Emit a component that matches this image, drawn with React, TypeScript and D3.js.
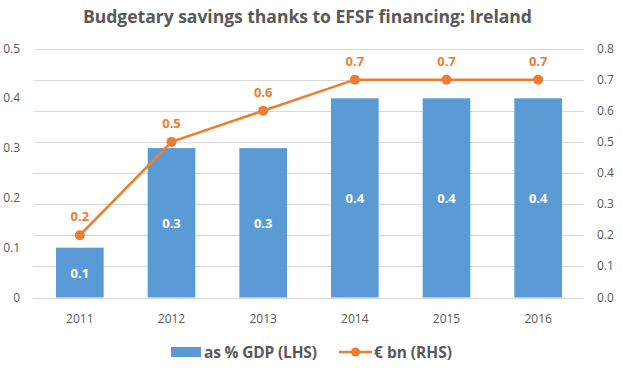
import React from "react";
import * as d3 from "d3";

const years = ["2011", "2012", "2013", "2014", "2015", "2016"];
const gdpPct = [0.1, 0.3, 0.3, 0.4, 0.4, 0.4];
const eurBn = [0.2, 0.5, 0.6, 0.7, 0.7, 0.7];
const leftTicks = [0, 0.1, 0.2, 0.3, 0.4, 0.5];
const rightTicks = [0, 0.1, 0.2, 0.3, 0.4, 0.5, 0.6, 0.7, 0.8];

const W = 622, H = 376;
const left = 34, right = 584, top = 48.5, bottom = 297.5;
const gray = "#595959";
const blue = "#5B9BD5";
const orange = "#ED7D31";
const font = "'Open Sans', 'Liberation Sans', sans-serif";

export default function App() {
  const x = d3.scaleBand<string>().domain(years).range([left, right]).paddingInner(0.48).paddingOuter(0.24);
  const yL = d3.scaleLinear().domain([0, 0.5]).range([bottom, top]);
  const yR = d3.scaleLinear().domain([0, 0.8]).range([bottom, top]);
  const cx = (y: string) => (x(y) as number) + x.bandwidth() / 2;
  const line = d3.line<number>().x((_, i) => cx(years[i])).y((d) => yR(d));

  return (
    <svg width={W} height={H} style={{ position: "absolute", left: 0, top: 0, background: "#fff" }} fontFamily={font}>
      <rect width={W} height={H} fill="#fff" />
      <text x={83} y={23} textAnchor="start" fontSize={17.6} fontWeight="bold" fill={gray} textLength={449} lengthAdjust="spacing">
        Budgetary savings thanks to EFSF financing: Ireland
      </text>
      {rightTicks.map((t) => (
        <line key={t} x1={left} x2={right} y1={Math.round(yR(t)) + 0.5} y2={Math.round(yR(t)) + 0.5} stroke="#D9D9D9" strokeWidth={1} />
      ))}
      {leftTicks.map((t) => (
        <text key={t} x={20} y={yL(t) + 4} textAnchor="end" fontSize={12} fill={gray}>
          {t === 0 ? "0" : t.toFixed(1)}
        </text>
      ))}
      {rightTicks.map((t) => (
        <text key={t} x={597} y={yR(t) + 4} textAnchor="start" fontSize={12} fill={gray}>
          {t.toFixed(1)}
        </text>
      ))}
      {years.map((y, i) => (
        <g key={y}>
          <rect x={x(y)} y={yL(gdpPct[i])} width={x.bandwidth()} height={yL(0) - yL(gdpPct[i])} fill={blue} />
          <text x={cx(y)} y={(yL(gdpPct[i]) + yL(0)) / 2 + 5} textAnchor="middle" fontSize={13} fontWeight="bold" fill="#fff">
            {gdpPct[i].toFixed(1)}
          </text>
          <text x={cx(y)} y={323} textAnchor="middle" fontSize={12} fill={gray}>{y}</text>
        </g>
      ))}
      <path d={line(eurBn) || ""} fill="none" stroke={orange} strokeWidth={2.5} />
      {eurBn.map((v, i) => (
        <g key={i}>
          <circle cx={cx(years[i])} cy={yR(v)} r={5} fill={orange} />
          <text x={cx(years[i])} y={yR(v) - 14} textAnchor="middle" fontSize={13} fontWeight="bold" fill={orange}>
            {v.toFixed(1)}
          </text>
        </g>
      ))}
      <g>
        <rect x={171} y={347} width={30} height={10} fill={blue} />
        <text x={204} y={357.5} fontSize={15.5} fontWeight="bold" fill={gray} textLength={113} lengthAdjust="spacing">as % GDP (LHS)</text>
        <line x1={339} x2={372} y1={352} y2={352} stroke={orange} strokeWidth={2.5} />
        <circle cx={355.5} cy={352} r={4.5} fill={orange} />
        <text x={374} y={357.5} fontSize={15.5} fontWeight="bold" fill={gray} textLength={78} lengthAdjust="spacing">€ bn (RHS)</text>
      </g>
    </svg>
  );
}
